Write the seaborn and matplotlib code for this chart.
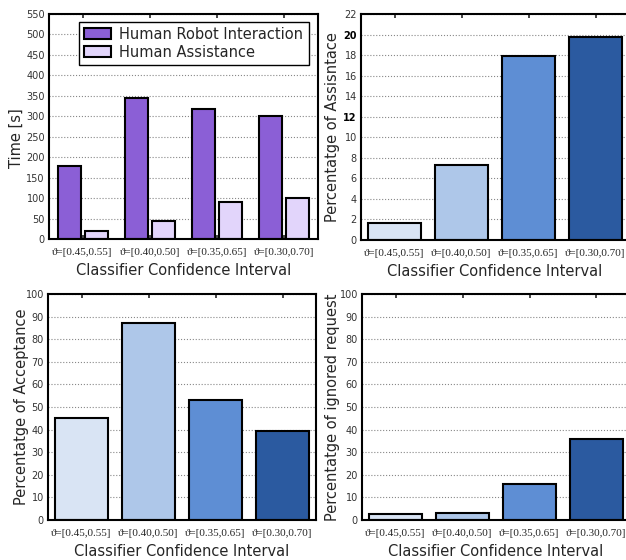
import pandas as pd
import matplotlib.pyplot as plt
import seaborn as sns

# Datos
categorias = ['ϑ=[0.45,0.55]', 'ϑ=[0.40,0.50]', 'ϑ=[0.35,0.65]', 'ϑ=[0.30,0.70]']
tiempo_hri = [178, 345, 317, 300]
tiempo_asistencia = [19, 45, 90, 100]
pct_asistencia = [1.7, 7.3, 17.9, 19.8]
pct_aceptacion = [45, 87, 53, 39.5]
pct_ignoradas = [2.5, 3, 16, 36]

series = ['Human Robot Interaction', 'Human Assistance']
colores_morado = ['#8b5fd6', '#e2d5fb']
colores_azul = ['#d9e4f4', '#aec7e9', '#5e8ed4', '#2b5aa0']

sns.set_style('white')
plt.rcParams['font.family'] = ['DejaVu Sans']
serif = ['Liberation Serif', 'DejaVu Serif']

fig = plt.figure(figsize=(6.26, 5.6), dpi=100)
W, H = 626, 560


def caja(izq, arriba, ancho, alto):
    return fig.add_axes([izq / W, 1 - (arriba + alto) / H, ancho / W, alto / H])


def estilo(ax, ymax, paso, ylabel, ylab_x):
    ax.set_xlim(-0.5, 3.5)
    ax.set_ylim(0, ymax)
    ax.set_yticks(range(0, ymax + 1, paso))
    ax.set_axisbelow(True)
    ax.yaxis.grid(True, linestyle=':', color='#888888', linewidth=0.8)
    for s in ax.spines.values():
        s.set_visible(True)
        s.set_color('black')
        s.set_linewidth(1.5)
    ax.tick_params(axis='x', direction='in', length=3, width=1.2, top=True, bottom=True,
                   pad=6.5, labelsize=8)
    ax.tick_params(axis='y', length=0, labelsize=7, labelcolor='#333333', pad=3)
    ax.set_xticks(range(len(categorias)))
    ax.set_xticklabels(categorias, family=serif)
    ax.set_xlabel('Classifier Confidence Interval', fontsize=10.5)
    ax.set_ylabel(ylabel, fontsize=10.5)
    ax.yaxis.set_label_coords(ylab_x, 0.5)
    ax.xaxis.set_label_coords(0.5, -0.105)


# Panel 1: tiempos
ax1 = caja(49, 14, 269, 225)
df = pd.DataFrame({
    'cat': categorias * 2,
    'serie': [series[0]] * 4 + [series[1]] * 4,
    'tiempo': tiempo_hri + tiempo_asistencia,
})
sns.barplot(data=df, x='cat', y='tiempo', hue='serie', palette=colores_morado, ax=ax1,
            width=0.8, gap=0.15, saturation=1, edgecolor='black', linewidth=1.5)
estilo(ax1, 550, 50, 'Time [s]', -0.095)
ax1.yaxis.set_label_coords(-0.095, 0.45)
leg = ax1.legend(loc='upper right', bbox_to_anchor=(0.965, 0.966), borderaxespad=0,
                 fontsize=10.5, fancybox=False, framealpha=1, edgecolor='black',
                 handlelength=1.9, handleheight=0.8, handletextpad=0.55,
                 labelspacing=0.2, borderpad=0.35)
leg.get_frame().set_linewidth(1.0)

# Panel 2: porcentaje de asistencia
ax2 = caja(361, 14, 268, 226)
sns.barplot(x=categorias, y=pct_asistencia, hue=categorias, palette=colores_azul,
            legend=False, ax=ax2, width=0.8, saturation=1, edgecolor='black', linewidth=1.5)
estilo(ax2, 22, 2, 'Percentatge of Assisntace', -0.077)
for t in ax2.get_yticklabels():
    if t.get_text() in ('20', '12'):
        t.set_fontweight('bold')
        t.set_color('black')

# Panel 3: porcentaje de aceptacion
ax3 = caja(48, 294, 268, 226)
sns.barplot(x=categorias, y=pct_aceptacion, hue=categorias, palette=colores_azul,
            legend=False, ax=ax3, width=0.8, saturation=1, edgecolor='black', linewidth=1.5)
estilo(ax3, 100, 10, 'Percentatge of Acceptance', -0.07)

# Panel 4: peticiones ignoradas
ax4 = caja(362, 294, 268, 226)
sns.barplot(x=categorias, y=pct_ignoradas, hue=categorias, palette=colores_azul,
            legend=False, ax=ax4, width=0.8, saturation=1, edgecolor='black', linewidth=1.5)
estilo(ax4, 100, 10, 'Percentatge of ignored request', -0.082)

fig.savefig('out.png', dpi=100)
